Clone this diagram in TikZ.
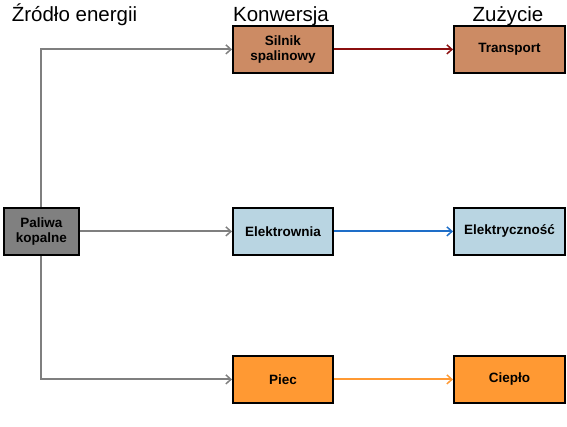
\documentclass[tikz,border=0pt]{standalone}
\usepackage{fontspec}
\setmainfont{Liberation Sans}
\usetikzlibrary{arrows.meta}
\definecolor{grayfill}{HTML}{808080}
\definecolor{brownfill}{HTML}{CC8B64}
\definecolor{bluefill}{HTML}{B9D5E2}
\definecolor{orangefill}{HTML}{FF9933}
\definecolor{grayline}{HTML}{7F7F7F}
\definecolor{redline}{HTML}{8B0F0F}
\definecolor{blueline}{HTML}{1E6EC8}
\definecolor{orangeline}{HTML}{FF9933}
\tikzset{
  box/.style={draw=black, line width=1.8pt, minimum height=47pt, inner sep=0pt, align=center, font=\fontsize{13.5}{15.5}\selectfont\bfseries, anchor=north west},
  col2/.style={box, minimum width=100pt},
  col3/.style={box, minimum width=111pt},
  header/.style={font=\fontsize{20.5}{22}\selectfont, anchor=base},
  conn/.style={draw, line width=2.1pt, arrows={-Straight Barb[length=5pt,width=9pt,line width=1.5pt]}},
}
\begin{document}
\begin{tikzpicture}[x=1pt,y=-1pt]
\useasboundingbox (0,0) rectangle (567,426);
\node[header] (h1) at (74.5,21) {Źródło energii};
\node[header] (h2) at (281,21) {Konwersja};
\node[header] (h3) at (508,21) {Zużycie};
\node[box, fill=grayfill, minimum width=75pt] (paliwa) at (3,207) {Paliwa\\kopalne};
\node[col2, fill=brownfill] (silnik) at (232,25) {Silnik\\spalinowy};
\node[col3, fill=brownfill] (transport) at (453,25) {Transport};
\node[col2, fill=bluefill] (elektrownia) at (232,207) {Elektrownia};
\node[col3, fill=bluefill] (elektr) at (453,207) {Elektryczność};
\node[col2, fill=orangefill] (piec) at (232,355) {Piec};
\node[col3, fill=orangefill] (cieplo) at (453,355) {Ciepło};
\draw[conn, draw=grayline] (paliwa.north) |- (silnik.west);
\draw[conn, draw=grayline] (paliwa.east) -- (elektrownia.west);
\draw[conn, draw=grayline] (paliwa.south) |- (piec.west);
\draw[conn, draw=redline] (silnik.east) -- (transport.west);
\draw[conn, draw=blueline] (elektrownia.east) -- (elektr.west);
\draw[conn, draw=orangeline] (piec.east) -- (cieplo.west);
\end{tikzpicture}
\end{document}
